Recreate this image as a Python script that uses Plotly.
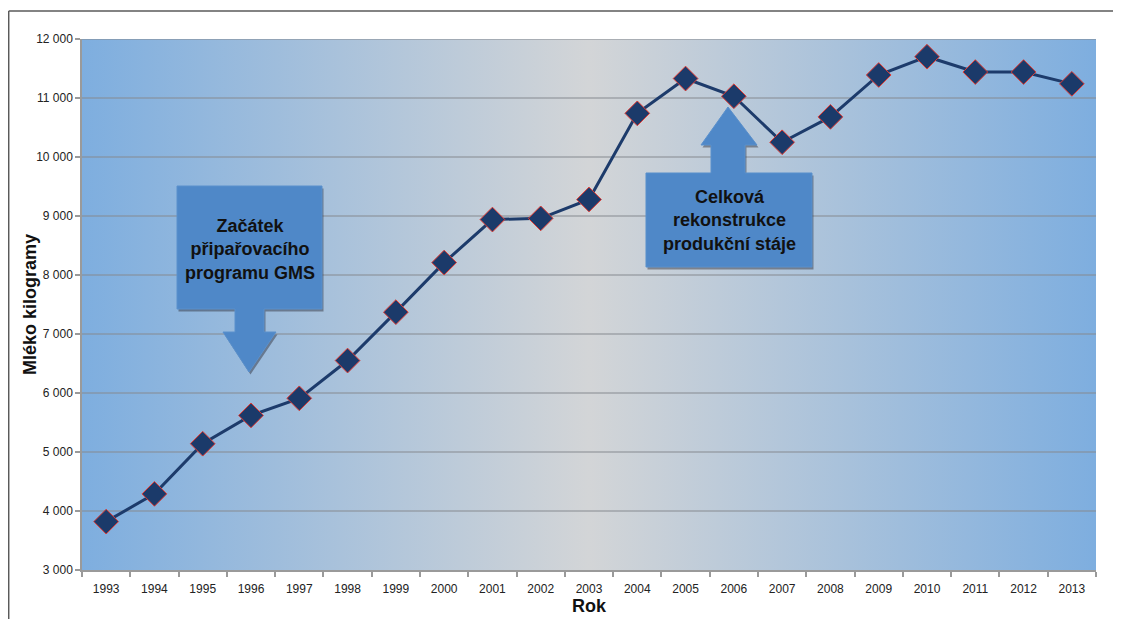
import plotly.graph_objects as go

years = list(range(1993, 2014))
milk = [3820, 4290, 5140, 5620, 5910, 6550, 7370, 8210, 8940, 8960, 9280,
        10740, 11330, 11030, 10250, 10680, 11390, 11700, 11440, 11440, 11240]
y_ticks = [3000, 4000, 5000, 6000, 7000, 8000, 9000, 10000, 11000, 12000]
y_ticktext = ["3 000", "4 000", "5 000", "6 000", "7 000", "8 000", "9 000",
              "10 000", "11 000", "12 000"]
callout1_text = "Začátek<br>připařovacího<br>programu GMS"
callout2_text = "Celková<br>rekonstrukce<br>produkční stáje"
x_title = "Rok"
y_title = "Mléko kilogramy"

OFF = 8  # page body margin
W, H = 1121 - OFF, 619 - OFF
L, R, T, B = 82, 1096, 39, 570  # plot area in page pixels

def px(X):
    return (X - L) / (R - L)

def py(Y):
    return (B - Y) / (B - T)

def path(pts, dx=0, dy=0):
    return "M " + " L ".join(f"{px(x+dx):.5f},{py(y+dy):.5f}" for x, y in pts) + " Z"

x0, x1 = years[0] - 0.5, years[-1] + 0.5
ymin, ymax = y_ticks[0], y_ticks[-1]

fig = go.Figure()

fig.add_trace(go.Scatter(
    x=[x0, x1, x1, x0, x0], y=[ymin, ymin, ymax, ymax, ymin],
    fill="toself", mode="none", hoverinfo="skip", showlegend=False,
    fillgradient=dict(type="horizontal",
                      colorscale=[[0, "#7eaedf"], [0.5, "#d3d5d7"], [1, "#7eaedf"]]),
))

gx, gy = [], []
for v in y_ticks[1:]:
    gx += [x0, x1, None]
    gy += [v, v, None]
fig.add_trace(go.Scatter(x=gx, y=gy, mode="lines", hoverinfo="skip", showlegend=False,
                         line=dict(color="#858a90", width=1.2)))

fig.add_trace(go.Scatter(
    x=years, y=milk, mode="lines+markers", showlegend=False,
    line=dict(color="#1d3b6b", width=3),
    marker=dict(symbol="diamond", size=19, color="#1b3a6a",
                line=dict(color="#e23a32", width=1)),
))

shapes = []
c1 = [(177, 186), (322, 186), (322, 309), (264, 309), (264, 332), (276, 332),
      (249, 372), (223, 332), (235, 332), (235, 309), (177, 309)]
c2 = [(646, 173), (711, 173), (711, 145), (701, 145), (728, 107), (757, 145),
      (745, 145), (745, 173), (812, 173), (812, 267), (646, 267)]
for c in (c1, c2):
    shapes.append(dict(type="path", xref="paper", yref="paper", path=path(c, 1.5, 2.5),
                       fillcolor="rgba(40,40,50,0.45)", line=dict(width=0), layer="above"))
    shapes.append(dict(type="path", xref="paper", yref="paper", path=path(c),
                       fillcolor="#4f88c8", line=dict(color="#5a90cc", width=1), layer="above"))

shapes.append(dict(type="line", xref="paper", yref="paper",
                   x0=px(8.7), x1=px(1125), y0=py(11), y1=py(11),
                   line=dict(color="#5a5a5a", width=1.5)))
shapes.append(dict(type="line", xref="paper", yref="paper",
                   x0=px(8.7), x1=px(8.7), y0=py(11), y1=py(625),
                   line=dict(color="#5a5a5a", width=1.5)))

font_c = dict(family="Liberation Sans", size=18, color="#111")
font_t = dict(family="Liberation Sans", size=18, color="#111")
annotations = [
    dict(xref="paper", yref="paper", x=px(249.5), y=py(249), text="<b>" + callout1_text + "</b>",
         showarrow=False, font=font_c, xanchor="center", yanchor="middle", align="center"),
    dict(xref="paper", yref="paper", x=px(729), y=py(220), text="<b>" + callout2_text + "</b>",
         showarrow=False, font=font_c, xanchor="center", yanchor="middle", align="center"),
    dict(xref="paper", yref="paper", x=px(589), y=py(606), text=f"<b>{x_title}</b>",
         showarrow=False, font=font_t, xanchor="center", yanchor="middle"),
    dict(xref="paper", yref="paper", x=px(30), y=py(305), text=f"<b>{y_title}</b>",
         showarrow=False, textangle=-90, font=font_t, xanchor="center", yanchor="middle"),
]

fig.update_layout(
    width=W, height=H,
    margin=dict(l=L - OFF, r=W + OFF - R, t=T - OFF, b=H + OFF - B, pad=0),
    paper_bgcolor="white", plot_bgcolor="white",
    font=dict(family="Liberation Sans", size=12, color="#222"),
    shapes=shapes, annotations=annotations,
    xaxis=dict(range=[x0, x1], tickvals=years, ticktext=[str(y) for y in years],
               ticks="", showgrid=False, zeroline=False, ticklabelstandoff=7,
               showline=True, linecolor="#9a9a9a", linewidth=1.5,
               tickfont=dict(size=12, color="#222"),
               minor=dict(tickvals=[y - 0.5 for y in years] + [x1], ticks="outside",
                          ticklen=5, tickcolor="#9a9a9a", tickwidth=1.5, showgrid=False)),
    yaxis=dict(range=[ymin, ymax], tickvals=y_ticks, ticktext=y_ticktext,
               ticks="outside", ticklen=5, tickcolor="#9a9a9a", tickwidth=1.5,
               showgrid=False, zeroline=False,
               showline=True, linecolor="#9a9a9a", linewidth=1.5,
               tickfont=dict(size=12, color="#222")),
)

fig.write_html("out.html")
